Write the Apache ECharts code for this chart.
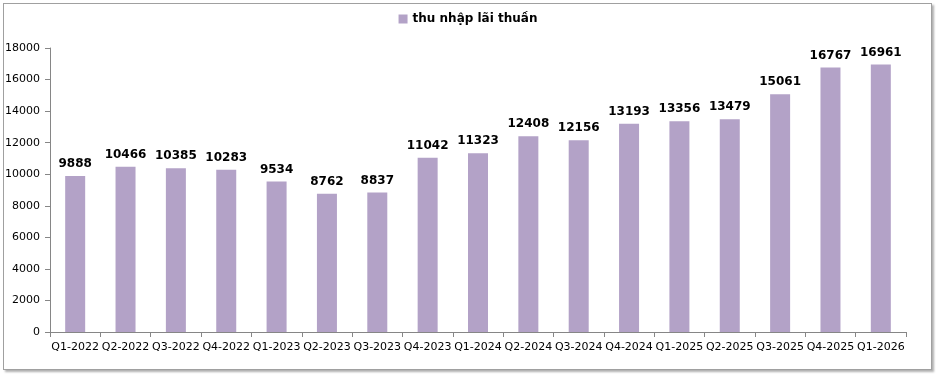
<!DOCTYPE html>
<html><head><meta charset="utf-8">
<script src="https://cdn.jsdelivr.net/npm/echarts@6/dist/echarts.min.js"></script>
<style>
html,body{margin:0;padding:0;background:#fff;}
#frame{position:absolute;left:3px;top:3px;width:927px;height:365px;border:1px solid #a0a0a0;box-shadow:2px 2px 2px #b0b0b0;}
#c{position:absolute;left:0;top:0;width:936px;height:374px;}
</style></head>
<body>
<div id="frame"></div>
<div id="c"></div>
<script>
const categories = ["Q1-2022","Q2-2022","Q3-2022","Q4-2022","Q1-2023","Q2-2023","Q3-2023","Q4-2023","Q1-2024","Q2-2024","Q3-2024","Q4-2024","Q1-2025","Q2-2025","Q3-2025","Q4-2025","Q1-2026"];
const netInterestIncome = [9888,10466,10385,10283,9534,8762,8837,11042,11323,12408,12156,13193,13356,13479,15061,16767,16961];
const seriesName = "thu nhập lãi thuần";
const yMin = 0, yMax = 18000, yStep = 2000;

const chart = echarts.init(document.getElementById('c'), null, {renderer:'canvas'});
const font = 'Tahoma, "DejaVu Sans", sans-serif';
chart.setOption({
  animation:false,
  legend:{
    top:8, left:'center',
    itemWidth:9, itemHeight:9, itemGap:4,
    icon:'rect',
    textStyle:{fontFamily:font,fontSize:12,fontWeight:'bold',color:'#000'},
    data:[seriesName]
  },
  grid:{left:50,right:30,top:48,bottom:42},
  xAxis:{
    type:'category', data:categories,
    axisLine:{lineStyle:{color:'#868686'}},
    axisTick:{show:true,alignWithLabel:false,length:5,lineStyle:{color:'#868686'}},
    axisLabel:{fontFamily:font,fontSize:11,color:'#000',margin:10,interval:0}
  },
  yAxis:{
    type:'value', min:yMin, max:yMax, interval:yStep,
    axisLine:{show:true,lineStyle:{color:'#868686'}},
    axisTick:{show:true,length:5,lineStyle:{color:'#868686'}},
    splitLine:{show:false},
    axisLabel:{fontFamily:font,fontSize:11,color:'#000',margin:10,formatter:function(v){return String(v);}}
  },
  series:[{
    name:seriesName, type:'bar', data:netInterestIncome,
    barWidth:20,
    itemStyle:{color:'#B3A2C7'},
    label:{show:true,position:'top',distance:6,fontFamily:font,fontSize:12,fontWeight:'bold',color:'#000'}
  }]
});
</script>
</body></html>
